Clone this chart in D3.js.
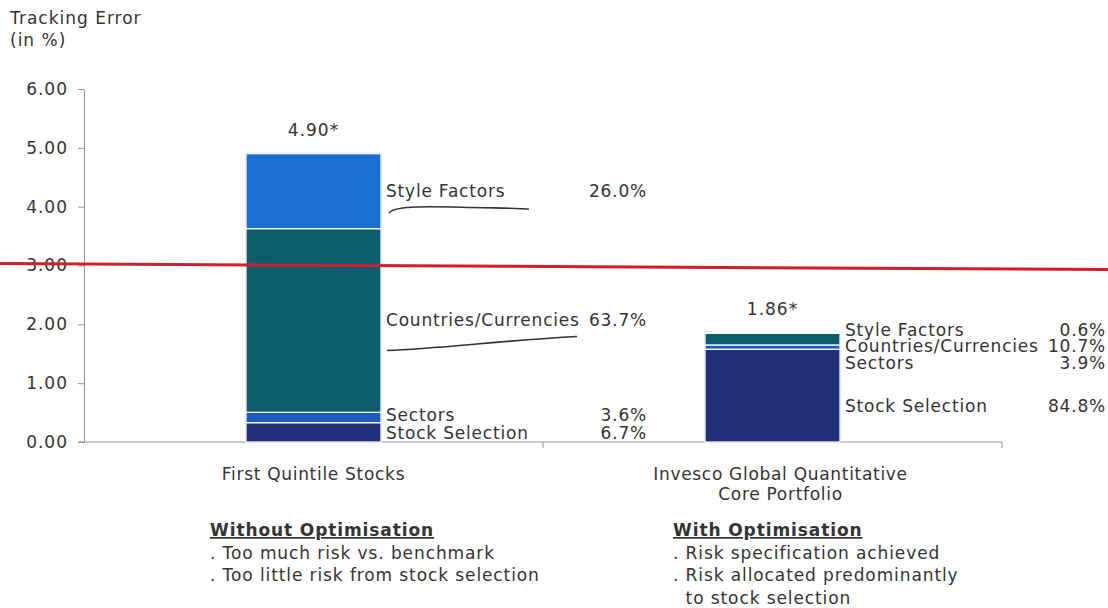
<!DOCTYPE html>
<html>
<head>
<meta charset="utf-8">
<script src="https://cdn.jsdelivr.net/npm/d3@7"></script>
<style>
  body { margin: 0; background: #fff; }
  text { font-family: "DejaVu Sans", Verdana, sans-serif; fill: #333; }
</style>
</head>
<body>
<svg id="chart" width="1108" height="608"></svg>
<script>
const portfolios = ["First Quintile Stocks", "Invesco Global Quantitative Core Portfolio"];
const portfolioLines = [["First Quintile Stocks"], ["Invesco Global Quantitative", "Core Portfolio"]];
const totals = [4.90, 1.86];
const factors = ["Stock Selection", "Sectors", "Countries/Currencies", "Style Factors"];
const stockSelection = [6.7, 84.8];
const sectors = [3.6, 3.9];
const countries = [63.7, 10.7];
const styleFactors = [26.0, 0.6];
const yTicks = [0, 1, 2, 3, 4, 5, 6];
const riskLimit = 3.0;
const notesLeft = ["Without Optimisation", ". Too much risk vs. benchmark", ". Too little risk from stock selection"];
const notesRight = ["With Optimisation", ". Risk specification achieved", ". Risk allocated predominantly", "  to stock selection"];

const colors = {
  "Stock Selection": "#1f2f78",
  "Sectors": "#1b5cc0",
  "Countries/Currencies": "#0e5d6d",
  "Style Factors": "#1b6fd2"
}

const svg = d3.select("#chart")
const width = +svg.attr("width");
const height = +svg.attr("height");
const m = { top: 89, right: 106, bottom: 166, left: 84 }

const rows = portfolios.map((p, i) => ({
  portfolio: p,
  "Stock Selection": totals[i] * stockSelection[i] / 100,
  "Sectors": totals[i] * sectors[i] / 100,
  "Countries/Currencies": totals[i] * countries[i] / 100,
  "Style Factors": totals[i] * styleFactors[i] / 100,
  pct: {
    "Stock Selection": stockSelection[i],
    "Sectors": sectors[i],
    "Countries/Currencies": countries[i],
    "Style Factors": styleFactors[i]
  },
  total: totals[i],
  lines: portfolioLines[i]
}));

const x = d3.scaleBand()
  .domain(portfolios)
  .range([m.left, width - m.right])
  .padding(0)

const barW = x.bandwidth() * 0.294

const y = d3.scaleLinear()
  .domain([0, 6])
  .range([height - m.bottom, m.top])

// y axis
svg.append("g")
  .attr("transform", `translate(${m.left},0)`)
  .call(d3.axisLeft(y).tickValues(yTicks).tickFormat(d3.format(".2f")).tickSize(6).tickSizeOuter(0).tickPadding(10))
  .call(g => g.selectAll(".domain").attr("stroke", "#8c95aa"))
  .call(g => g.selectAll(".tick line").attr("stroke", "#8c95aa"))
  .call(g => g.selectAll(".tick text").attr("font-size", "17px").attr("fill", "#333")
    .attr("letter-spacing", "1px")
    .style("font-family", "DejaVu Sans, Verdana, sans-serif"))

// x axis baseline + boundary ticks
const x0 = height - m.bottom
svg.append("line")
  .attr("x1", m.left - 6).attr("x2", width - m.right)
  .attr("y1", x0).attr("y2", x0)
  .attr("stroke", "#8c95aa")
svg.selectAll(".xtick")
  .data([...portfolios.map(p => x(p)), width - m.right].slice(1))
  .enter().append("line")
    .attr("x1", d => d).attr("x2", d => d)
    .attr("y1", x0).attr("y2", x0 + 6)
    .attr("stroke", "#8c95aa")

// axis title
svg.append("text").attr("x", 10).attr("y", 24).attr("font-size", "17px").attr("letter-spacing", "1px").text("Tracking Error")
svg.append("text").attr("x", 10).attr("y", 46).attr("font-size", "17px").attr("letter-spacing", "1px").text("(in %)")

// stacked bars
const stack = d3.stack().keys(factors)(rows)
const barX = d => x(d.data.portfolio) + (x.bandwidth() - barW) / 2

svg.selectAll(".bar-bg")
  .data(rows)
  .enter().append("rect")
    .attr("x", d => x(d.portfolio) + (x.bandwidth() - barW) / 2 - 1)
    .attr("y", d => y(d.total) - 1)
    .attr("width", barW + 2)
    .attr("height", d => y(0) - y(d.total) + 1)
    .attr("fill", "#c9d3e2")

svg.append("g").selectAll("g")
  .data(stack)
  .enter().append("g")
    .attr("fill", d => colors[d.key])
  .selectAll("rect")
  .data(d => d)
  .enter().append("rect")
    .attr("x", barX)
    .attr("y", d => y(d[1]))
    .attr("width", barW)
    .attr("height", d => Math.max(0, y(d[0]) - y(d[1])))
    .attr("stroke", "#ffffff")
    .attr("stroke-width", 1.2)

// total labels
svg.selectAll(".total")
  .data(rows)
  .enter().append("text")
    .attr("x", d => x(d.portfolio) + x.bandwidth() / 2)
    .attr("y", d => y(d.total) - 18)
    .attr("text-anchor", "middle")
    .attr("font-size", "17px")
    .attr("letter-spacing", "1px")
    .text(d => d.total.toFixed(2) + "*")

// segment labels
rows.forEach((row, i) => {
  const gap = i === 0 ? 18 : 16.5
  const left = x(row.portfolio) + (x.bandwidth() + barW) / 2
  const segs = factors.map((f, k) => ({
    key: f,
    center: (y(stack[k][i][0]) + y(stack[k][i][1])) / 2
  })).reverse()
  let prev = -Infinity
  segs.forEach(s => {
    s.pos = Math.max(s.center, prev + gap)
    prev = s.pos
  })
  // keep last label inside the bar, push others up
  let next = y(0) - 9
  for (let k = segs.length - 1; k >= 0; k--) {
    segs[k].pos = Math.min(segs[k].pos, next)
    next = segs[k].pos - gap
  }
  if (i === 1) {
    segs.slice(0, 3).forEach(s => s.pos -= 3)
    segs[3].pos += 10
  }
  segs.forEach(s => {
    svg.append("text")
      .attr("x", left + 5)
      .attr("y", s.pos)
      .attr("dy", "0.35em")
      .attr("font-size", "17px")
      .attr("letter-spacing", "0.8px")
      .text(s.key)
    svg.append("text")
      .attr("x", left + 266)
      .attr("y", s.pos)
      .attr("dy", "0.35em")
      .attr("text-anchor", "end")
      .attr("font-size", "17px")
      .attr("letter-spacing", "0.8px")
      .text(row.pct[s.key].toFixed(1) + "%")
  })
  if (i === 0) {
    // hand-drawn underlines
    const sf = segs.find(s => s.key === "Style Factors").pos
    const cc = segs.find(s => s.key === "Countries/Currencies").pos
    svg.append("path")
      .attr("d", `M${left + 8},${sf + 22} C${left + 12},${sf + 15} ${left + 40},${sf + 15} ${left + 80},${sf + 16} S${left + 140},${sf + 17} ${left + 148},${sf + 18}`)
      .attr("fill", "none").attr("stroke", "#333").attr("stroke-width", 1.6)
    svg.append("path")
      .attr("d", `M${left + 6},${cc + 30} C${left + 60},${cc + 28} ${left + 120},${cc + 20} ${left + 196},${cc + 16}`)
      .attr("fill", "none").attr("stroke", "#333").attr("stroke-width", 1.6)
  }
})

// risk limit line
svg.append("line")
  .attr("x1", 0).attr("x2", width)
  .attr("y1", y(riskLimit) - 2).attr("y2", y(riskLimit) + 4)
  .attr("stroke", "#d01f2a")
  .attr("stroke-width", 3)

// category labels
svg.selectAll(".cat")
  .data(rows)
  .enter().append("text")
    .attr("x", d => x(d.portfolio) + x.bandwidth() / 2 + (d.lines.length > 1 ? 8 : 0))
    .attr("y", x0 + 38)
    .attr("text-anchor", "middle")
    .attr("font-size", "17px")
    .attr("letter-spacing", "0.7px")
  .selectAll("tspan")
  .data(d => d.lines)
  .enter().append("tspan")
    .attr("x", function() { return d3.select(this.parentNode).attr("x") })
    .attr("dy", (d, i) => i === 0 ? 0 : 20)
    .text(d => d)

// notes
function notes(list, nx) {
  list.forEach((t, i) => {
    svg.append("text")
      .attr("x", nx)
      .attr("y", 536 + i * 22.5)
      .attr("font-size", "17px")
      .attr("letter-spacing", "0.9px")
      .attr("font-weight", i === 0 ? "bold" : "normal")
      .attr("text-decoration", i === 0 ? "underline" : null)
      .attr("xml:space", "preserve")
      .style("white-space", "pre")
      .text(t)
  })
}
notes(notesLeft, 210)
notes(notesRight, 673)
</script>
</body>
</html>
